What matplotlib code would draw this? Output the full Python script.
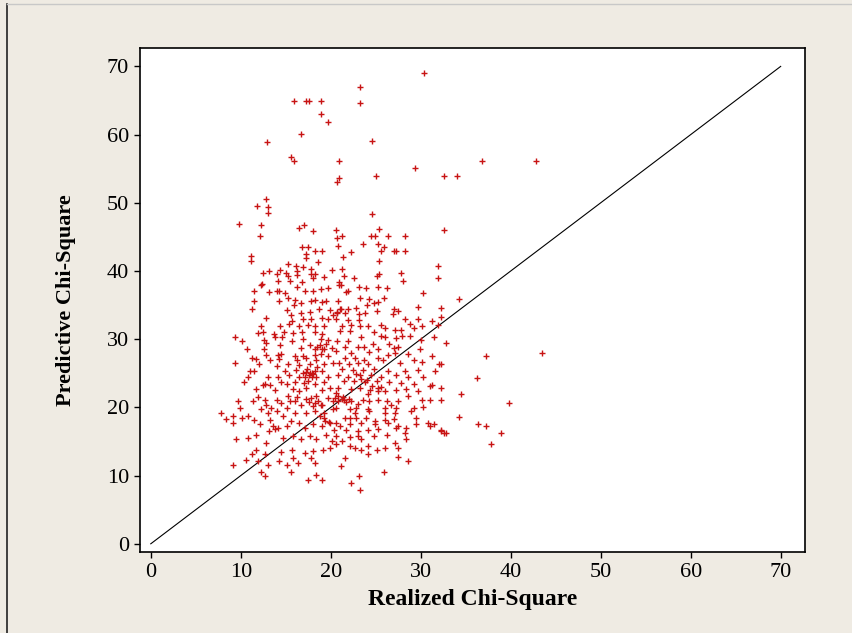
import matplotlib
matplotlib.use("Agg")
from matplotlib import pyplot as plt
from matplotlib.lines import Line2D

# (realized, predictive) pairs, grouped by region
upper_pts = [
    (30.4, 69.0), (23.2, 67.0), (23.2, 64.6), (15.9, 64.9), (17.2, 64.9), (17.6, 64.9),
    (18.9, 64.9), (18.9, 63.0), (19.7, 61.9), (16.7, 60.1), (12.9, 58.9), (24.6, 59.1),
    (15.6, 56.7), (15.9, 56.1), (20.9, 56.1), (36.8, 56.1), (42.8, 56.1), (29.4, 55.1),
    (25.0, 54.0), (32.6, 54.0), (34.0, 54.0), (20.9, 53.7), (20.7, 53.0),
]

upper_left = [
    (12.8, 50.6), (11.8, 49.6), (13.0, 49.4), (13.0, 48.5), (9.8, 46.9), (12.3, 46.7),
    (12.1, 45.1), (16.5, 46.3), (17.0, 46.7), (18.0, 45.8), (11.1, 42.2), (11.1, 41.4),
    (16.8, 43.5), (17.5, 43.5), (17.2, 42.5), (17.3, 41.9), (18.3, 43.0), (19.0, 43.0),
    (18.6, 41.3), (15.3, 41.0), (16.1, 40.8), (16.9, 40.6), (17.8, 40.3), (20.1, 40.1),
    (12.5, 39.7), (13.1, 40.0), (14.0, 39.5), (14.4, 40.1), (15.0, 39.7), (15.2, 39.2),
    (16.2, 40.0), (16.3, 39.4), (17.8, 39.5), (18.3, 39.5), (14.1, 38.6), (15.5, 38.6),
    (16.8, 38.4), (18.0, 38.9), (19.3, 39.1), (12.2, 37.9), (12.4, 38.1), (11.5, 37.1),
    (13.1, 36.9), (14.0, 37.1), (14.3, 37.1), (14.9, 36.8), (16.2, 37.6), (17.1, 37.1),
    (18.0, 37.1), (18.9, 37.4), (19.7, 37.5),
]

upper_right = [
    (24.6, 48.4), (20.6, 46.0), (25.4, 46.1), (32.6, 46.0), (20.7, 44.8), (21.3, 45.1),
    (24.5, 45.1), (24.9, 45.1), (26.4, 45.1), (28.2, 45.1), (20.8, 43.6), (23.6, 44.0),
    (25.3, 44.0), (25.9, 43.5), (25.6, 43.0), (27.0, 42.9), (27.2, 43.0), (28.2, 43.0),
    (22.3, 42.8), (21.4, 42.1), (25.4, 41.5), (31.9, 40.8), (21.3, 40.3), (25.1, 39.3),
    (25.4, 39.6), (27.8, 39.7), (31.9, 39.0), (21.5, 39.2), (22.6, 39.0), (28.0, 38.5),
    (20.9, 38.4), (21.1, 38.0), (20.9, 37.9), (23.1, 37.7), (23.9, 37.5), (25.2, 37.7),
    (26.3, 37.5), (21.9, 37.1), (21.7, 36.9), (30.3, 36.8),
]

mid_left = [
    (11.5, 35.6), (11.3, 34.4), (14.3, 35.6), (15.2, 36.1), (16.0, 35.8), (15.1, 34.3),
    (15.9, 35.0), (16.7, 35.3), (17.8, 35.6), (18.2, 35.8), (19.0, 35.4), (19.5, 35.6),
    (12.8, 33.1), (15.6, 33.5), (16.7, 33.8), (17.7, 34.0), (18.7, 34.5), (19.9, 34.3),
    (15.7, 32.7), (16.9, 33.0), (17.8, 33.0), (19.0, 33.1), (19.7, 33.0), (12.3, 32.0),
    (14.4, 31.9), (15.4, 32.2), (16.5, 32.0), (17.5, 32.1), (18.2, 32.0), (19.3, 31.9),
    (11.9, 30.9), (12.5, 31.0), (13.7, 30.7), (14.8, 31.1), (15.8, 30.9), (16.8, 31.0),
    (18.2, 31.0), (19.0, 30.7), (9.4, 30.3), (10.1, 29.8), (12.6, 29.9), (13.8, 30.3),
    (14.6, 30.3), (15.7, 29.7), (16.9, 30.1), (18.9, 30.1), (19.7, 29.9), (12.8, 29.4),
    (14.4, 29.2), (17.7, 29.2), (18.5, 28.9), (19.5, 29.3), (10.7, 28.5), (12.6, 28.5),
    (16.7, 28.7), (18.3, 28.5), (19.0, 28.6), (20.1, 28.7), (12.8, 27.7), (14.1, 27.7),
    (14.5, 27.8), (16.0, 27.5), (16.9, 27.6), (18.2, 27.7), (18.9, 27.8), (19.7, 27.6),
    (11.2, 27.2), (11.7, 27.1), (13.2, 27.0), (14.3, 27.1), (16.2, 27.0), (17.3, 27.2),
    (18.4, 27.0), (9.4, 26.5), (12.0, 26.4), (14.0, 26.0), (15.2, 26.3), (16.5, 26.2),
    (17.7, 26.3), (19.3, 26.3), (20.2, 26.5), (14.9, 25.4), (16.1, 25.5), (16.9, 25.0),
    (17.3, 25.2), (17.7, 25.0), (18.0, 24.9), (19.0, 25.4), (11.0, 25.3), (11.5, 25.3),
    (10.8, 24.5), (13.0, 24.5), (14.1, 24.4), (15.4, 24.7), (16.5, 24.4), (17.1, 24.5),
    (17.9, 24.5), (18.4, 24.4), (19.7, 24.5), (10.4, 23.7), (12.7, 23.4), (14.5, 23.7),
    (15.1, 23.4), (16.0, 23.7), (17.0, 23.6), (17.5, 23.8), (18.2, 23.4), (19.3, 23.7),
    (11.7, 22.7), (12.5, 23.3), (13.2, 23.3), (13.8, 22.6), (15.8, 22.7), (16.5, 22.4),
    (17.3, 22.8), (19.0, 22.6), (19.9, 22.8),
]

mid_right = [
    (23.2, 36.1), (24.3, 35.9), (25.9, 36.0), (20.8, 35.6), (21.1, 34.5), (21.9, 34.5),
    (22.8, 34.6), (24.0, 35.0), (24.8, 35.3), (25.3, 35.4), (27.0, 34.5), (27.5, 34.2),
    (29.7, 34.7), (32.3, 34.6), (20.7, 33.8), (21.6, 33.8), (23.1, 33.7), (23.8, 33.8),
    (25.1, 34.1), (26.9, 33.7), (20.6, 33.0), (21.9, 32.8), (23.1, 32.8), (28.3, 33.0),
    (29.7, 33.0), (31.2, 32.7), (32.2, 33.2), (31.9, 32.1), (21.2, 32.0), (22.2, 32.1),
    (23.2, 32.0), (24.1, 31.9), (25.6, 32.1), (26.0, 31.6), (28.8, 32.2), (21.0, 31.2),
    (22.1, 31.2), (24.8, 31.0), (27.1, 31.4), (27.8, 31.4), (29.3, 31.6), (30.1, 31.9),
    (23.4, 30.3), (25.6, 30.4), (26.0, 30.3), (27.2, 30.2), (27.9, 30.4), (28.8, 30.5),
    (30.0, 29.9), (32.8, 29.4), (20.7, 29.8), (21.9, 29.7), (24.7, 29.3), (26.5, 29.3),
    (31.5, 30.3), (21.6, 28.9), (23.0, 28.8), (23.7, 28.8), (25.3, 28.5), (27.0, 28.7),
    (27.5, 28.8), (29.9, 28.5), (20.6, 28.2), (22.3, 28.0), (24.3, 28.1), (26.4, 27.7),
    (27.1, 28.0), (28.6, 27.8), (31.2, 27.5), (21.6, 27.2), (22.7, 27.2), (23.7, 27.0),
    (25.2, 27.2), (25.8, 27.0), (29.3, 27.0), (30.1, 26.7), (20.9, 26.5), (22.0, 26.3),
    (23.0, 26.5), (24.1, 26.3), (27.7, 26.5), (32.3, 26.4), (21.2, 25.7), (22.5, 25.5),
    (23.6, 25.5), (24.8, 25.7), (26.4, 25.4), (28.2, 25.4), (29.7, 25.5), (31.6, 25.4),
    (20.8, 24.8), (21.9, 24.5), (23.2, 24.7), (24.5, 24.8), (25.6, 24.5), (27.3, 24.8),
    (28.6, 24.5), (30.3, 24.5), (21.5, 23.8), (22.6, 23.9), (23.8, 23.7), (25.1, 23.9),
    (26.5, 23.7), (27.8, 23.6), (29.3, 23.4), (31.2, 23.3), (20.8, 22.9), (22.2, 22.7),
    (23.2, 22.9), (24.4, 22.6), (25.3, 22.8), (26.0, 22.4), (27.2, 22.6), (28.4, 22.7),
    (29.7, 22.4), (20.6, 22.1), (24.1, 22.0),
]

low_left = [
    (7.8, 19.2), (8.4, 18.3), (9.1, 18.8), (9.9, 19.9), (9.7, 20.9), (9.1, 17.7),
    (10.1, 18.4), (10.8, 18.7), (11.4, 20.9), (11.5, 18.2), (12.1, 17.5), (12.3, 19.7),
    (12.8, 20.4), (13.0, 19.2), (11.9, 21.5), (12.7, 21.1), (13.4, 19.9), (14.0, 21.1),
    (14.0, 19.5), (14.5, 20.6), (15.1, 19.9), (14.7, 18.7), (13.6, 17.2), (13.2, 18.2),
    (15.2, 21.6), (16.0, 20.9), (16.7, 20.4), (17.8, 21.4), (18.2, 20.6), (19.0, 20.4),
    (19.7, 21.4), (20.2, 20.9), (16.0, 19.2), (17.3, 19.2), (18.2, 19.4), (19.3, 19.2),
    (20.2, 19.7), (14.1, 17.0), (15.1, 17.2), (15.6, 18.0), (16.5, 17.7), (17.1, 17.0),
    (18.0, 17.5), (19.0, 17.2), (19.9, 17.7), (9.5, 15.3), (10.8, 15.5), (11.7, 16.0),
    (12.8, 14.8), (14.7, 15.5), (15.8, 15.8), (16.7, 15.3), (17.7, 15.8), (18.4, 15.3),
    (19.5, 16.0), (20.1, 15.0), (11.7, 13.8), (12.7, 13.1), (14.5, 13.5), (15.7, 13.7),
    (17.1, 13.3), (18.0, 13.6), (19.1, 13.8), (19.9, 14.0), (11.2, 13.1), (10.6, 12.3),
    (11.9, 12.1), (13.0, 11.6), (14.3, 12.1), (15.1, 11.6), (15.8, 12.6), (16.4, 11.9),
    (17.8, 12.6), (9.1, 11.6), (12.3, 10.6), (12.7, 9.9), (15.6, 10.6), (18.4, 10.1),
    (19.0, 9.4), (17.5, 9.4), (18.2, 11.9),
]

low_right = [
    (21.2, 21.3), (20.8, 21.6), (21.5, 21.1), (22.3, 20.9), (23.0, 20.5), (23.6, 21.1),
    (24.3, 20.9), (25.3, 21.1), (26.2, 20.9), (26.7, 20.4), (27.5, 20.9), (28.6, 21.6),
    (30.1, 21.1), (31.0, 21.1), (32.3, 21.1), (29.3, 19.9), (30.3, 20.0), (20.6, 19.9),
    (22.1, 19.8), (22.8, 19.9), (24.1, 19.7), (26.0, 19.9), (27.3, 19.9), (22.7, 19.2),
    (24.3, 19.4), (26.0, 19.2), (27.1, 19.2), (28.9, 19.4), (21.6, 18.4), (22.1, 18.4),
    (22.8, 18.5), (23.9, 18.4), (24.9, 18.0), (26.0, 18.2), (27.0, 18.3), (29.5, 18.4),
    (30.8, 17.7), (31.5, 17.5), (32.3, 16.7), (32.8, 16.2), (20.6, 17.7), (21.0, 17.2),
    (22.1, 17.5), (23.4, 17.7), (24.9, 17.5), (26.4, 17.7), (27.5, 17.2), (28.4, 17.0),
    (29.5, 17.6), (20.4, 16.7), (21.7, 16.7), (23.0, 16.5), (24.1, 16.7), (25.3, 16.9),
    (27.3, 17.0), (28.2, 16.2), (20.6, 15.8), (22.1, 15.6), (23.0, 15.8), (23.4, 15.3),
    (24.8, 15.8), (26.2, 16.0), (28.4, 15.3), (20.6, 14.6), (21.2, 15.0), (22.1, 14.4),
    (22.7, 14.1), (24.1, 14.3), (25.1, 13.8), (26.0, 14.1), (27.1, 14.8), (27.5, 14.1),
    (23.4, 13.7), (24.1, 13.1), (27.5, 12.7), (28.6, 12.2), (21.6, 12.6), (21.1, 11.4),
    (25.9, 10.5), (23.1, 9.9), (22.3, 8.9), (23.2, 7.9),
]

# overlapping points in the bright red blobs of the core
core_dense = [
    (17.4, 25.6), (17.9, 25.1), (18.2, 25.4), (17.6, 24.8), (18.5, 25.9),
    (17.6, 20.8), (18.0, 20.2), (18.6, 21.0), (18.9, 20.4), (17.2, 21.2), (18.4, 21.6),
    (20.8, 21.0), (21.4, 21.5), (21.7, 20.8), (22.0, 21.3), (20.5, 21.4),
    (19.2, 18.5), (19.8, 17.9), (19.4, 18.0), (18.8, 18.8),
    (19.3, 28.6), (18.8, 29.2), (20.7, 34.0), (21.0, 34.4), (20.3, 33.6),
    (23.4, 24.2), (22.8, 24.9), (24.0, 24.0), (25.2, 22.4), (24.6, 23.2), (25.6, 23.0),
    (15.5, 21.0), (16.2, 21.5), (13.1, 16.6), (13.8, 16.8),
]

right_pts = [
    (34.3, 35.9), (36.3, 24.3), (34.5, 21.9), (34.2, 18.6), (36.4, 17.5), (37.3, 17.3),
    (38.9, 16.2), (37.8, 14.6), (37.3, 27.5), (43.5, 28.0), (39.8, 20.6), (32.0, 26.3),
    (31.0, 23.1), (32.3, 22.8), (31.0, 17.2), (32.3, 16.6), (32.6, 16.2),
]

ref_line = [0, 70]
ticks = [0, 10, 20, 30, 40, 50, 60, 70]

all_pts = (upper_pts + upper_left + upper_right + mid_left + mid_right
           + low_left + low_right + core_dense + right_pts)
realized = [p[0] for p in all_pts]
predictive = [p[1] for p in all_pts]

serif = ["Liberation Serif", "DejaVu Serif"]

fig = plt.figure(figsize=(8.53, 6.33), dpi=100, facecolor="#efebe3")
ax = fig.add_axes([0.1641, 0.1280, 0.7796, 0.7962])
ax.set_facecolor("white")

ax.plot(ref_line, ref_line, color="black", lw=0.8, zorder=1)
ax.plot(realized, predictive, linestyle="none", marker="+", ms=4.5, mew=1.0,
        color="#c81414", zorder=2)

ax.set_xlim(-1.2, 72.7)
ax.set_ylim(-1.2, 72.7)
ax.set_xticks(ticks)
ax.set_yticks(ticks)
ax.tick_params(direction="out", length=4, width=1, labelsize=16, pad=4,
               top=False, right=False)
for lab in ax.get_xticklabels() + ax.get_yticklabels():
    lab.set_family(serif)
for sp in ax.spines.values():
    sp.set_linewidth(1.2)

ax.set_xlabel("Realized Chi-Square", family=serif, fontweight="bold", fontsize=17, labelpad=5)
ax.set_ylabel("Predictive Chi-Square", family=serif, fontweight="bold", fontsize=16, labelpad=22)

# window edges of the original screenshot
fig.add_artist(Line2D([7 / 853, 7 / 853], [0, 1 - 4 / 633], color="#222222", lw=1.2,
                      transform=fig.transFigure))
fig.add_artist(Line2D([7 / 853, 1], [1 - 4 / 633, 1 - 4 / 633], color="#c8c8c8", lw=1.0,
                      transform=fig.transFigure))

fig.savefig("out.png", dpi=100, facecolor=fig.get_facecolor())
